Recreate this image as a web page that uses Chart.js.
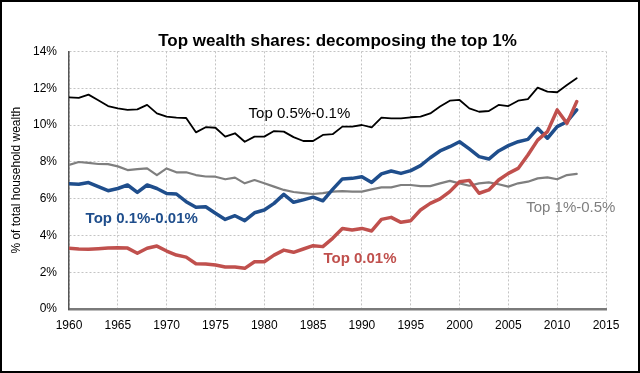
<!DOCTYPE html>
<html>
<head>
<meta charset="utf-8">
<script src="https://cdn.jsdelivr.net/npm/chart.js@4"></script>
<style>
  html, body { margin: 0; padding: 0; background: #fff; }
  #wrap { width: 640px; height: 373px; }
</style>
</head>
<body>
<div id="wrap"><canvas id="chart" width="640" height="373"></canvas></div>
<script>
// ================= DATA =================
const years = [
  1960, 1961, 1962, 1963, 1964, 1965, 1966, 1967, 1968, 1969,
  1970, 1971, 1972, 1973, 1974, 1975, 1976, 1977, 1978, 1979,
  1980, 1981, 1982, 1983, 1984, 1985, 1986, 1987, 1988, 1989,
  1990, 1991, 1992, 1993, 1994, 1995, 1996, 1997, 1998, 1999,
  2000, 2001, 2002, 2003, 2004, 2005, 2006, 2007, 2008, 2009,
  2010, 2011, 2012
];

// Top 0.5%-0.1%
const top05to01 = [
  11.5, 11.47, 11.65, 11.35, 11.03, 10.9, 10.82, 10.85, 11.09, 10.63,
  10.45, 10.4, 10.38, 9.6, 9.88, 9.85, 9.37, 9.55, 9.09, 9.37,
  9.37, 9.67, 9.64, 9.34, 9.13, 9.13, 9.46, 9.5, 9.91, 9.91,
  10.0, 9.87, 10.4, 10.36, 10.36, 10.42, 10.45, 10.63, 11.0, 11.32,
  11.36, 10.9, 10.72, 10.76, 11.09, 11.03, 11.32, 11.41, 12.03, 11.81,
  11.78, 12.17, 12.54
];

// Top 1%-0.5%
const top1to05 = [
  7.83, 7.99, 7.94, 7.88, 7.87, 7.75, 7.55, 7.6, 7.64, 7.28,
  7.64, 7.43, 7.43, 7.28, 7.2, 7.19, 7.05, 7.14, 6.83, 7.01,
  6.83, 6.65, 6.47, 6.36, 6.3, 6.25, 6.3, 6.38, 6.41, 6.38,
  6.38, 6.5, 6.61, 6.61, 6.74, 6.74, 6.68, 6.68, 6.83, 6.96,
  6.83, 6.7, 6.83, 6.88, 6.78, 6.65, 6.83, 6.92, 7.1, 7.15,
  7.05, 7.28, 7.34
];

// Top 0.1%-0.01%
const top01to001 = [
  6.81, 6.78, 6.87, 6.65, 6.43, 6.55, 6.74, 6.34, 6.74, 6.55,
  6.28, 6.25, 5.83, 5.53, 5.56, 5.2, 4.87, 5.07, 4.8, 5.23,
  5.38, 5.74, 6.23, 5.8, 5.93, 6.08, 5.88, 6.5, 7.07, 7.1,
  7.19, 6.88, 7.34, 7.5, 7.37, 7.52, 7.79, 8.22, 8.59, 8.82,
  9.09, 8.7, 8.28, 8.15, 8.59, 8.88, 9.09, 9.22, 9.82, 9.28,
  9.91, 10.18, 10.82
];

// Top 0.01%
const top001 = [
  3.3, 3.26, 3.25, 3.28, 3.31, 3.33, 3.31, 3.03, 3.3, 3.42,
  3.15, 2.93, 2.82, 2.46, 2.44, 2.39, 2.28, 2.28, 2.21, 2.57,
  2.57, 2.93, 3.2, 3.08, 3.26, 3.44, 3.39, 3.84, 4.38, 4.29,
  4.38, 4.24, 4.87, 4.98, 4.71, 4.8, 5.38, 5.74, 5.98, 6.38,
  6.92, 6.99, 6.29, 6.47, 7.01, 7.37, 7.64, 8.37, 9.18, 9.64,
  10.82, 10.09, 11.27
];

// line labels placed in the plot: text, year, value
const labelTexts = ["Top 0.5%-0.1%", "Top 0.1%-0.01%", "Top 0.01%", "Top 1%-0.5%"];
const labelYears = [1983.6, 1967.45, 1989.8, 2011.4];
const labelValues = [10.6, 4.89, 2.72, 5.52];

// ================= STYLE =================
const FONT = "'Liberation Sans', Arial, sans-serif";
const labelColors = ["#000000", "#1f4e8c", "#c0504d", "#7f7f7f"];
const labelBold = [false, true, true, false];

const toPoints = vals => years.map((y, i) => ({ x: y, y: vals[i] }));

// ================= PLUGINS =================
const frame = {
  id: "frame",
  beforeDraw(chart) {
    const c = chart.ctx;
    c.save();
    c.fillStyle = "#fff";
    c.fillRect(0, 0, chart.width, chart.height);
    c.restore();
  },
  afterDraw(chart) {
    const c = chart.ctx;
    c.save();
    c.strokeStyle = "#000";
    c.lineWidth = 2;
    c.strokeRect(1, 1, chart.width - 2, chart.height - 2);
    c.restore();
  }
};

const lineLabels = {
  id: "lineLabels",
  afterDatasetsDraw(chart) {
    const c = chart.ctx, xs = chart.scales.x, ys = chart.scales.y;
    c.save();
    c.textAlign = "center";
    c.textBaseline = "middle";
    labelTexts.forEach((t, i) => {
      c.font = (labelBold[i] ? "bold " : "") + "15px " + FONT;
      c.fillStyle = labelColors[i];
      c.fillText(t, xs.getPixelForValue(labelYears[i]), ys.getPixelForValue(labelValues[i]));
    });
    c.restore();
  }
};

// ================= CHART =================
new Chart(document.getElementById("chart"), {
  type: "line",
  data: {
    datasets: [
      { label: "Top 0.01%", data: toPoints(top001), borderColor: "#c0504d", borderWidth: 3.5 },
      { label: "Top 0.1%-0.01%", data: toPoints(top01to001), borderColor: "#1f4e8c", borderWidth: 3.5 },
      { label: "Top 1%-0.5%", data: toPoints(top1to05), borderColor: "#7f7f7f", borderWidth: 2.2 },
      { label: "Top 0.5%-0.1%", data: toPoints(top05to01), borderColor: "#000000", borderWidth: 1.8 }
    ]
  },
  options: {
    responsive: false,
    animation: false,
    layout: { padding: { left: 0, right: 34, top: 0, bottom: 0 } },
    elements: { point: { radius: 0 }, line: { tension: 0, borderCapStyle: "round", borderJoinStyle: "round" } },
    plugins: {
      legend: { display: false },
      tooltip: { enabled: false },
      title: {
        display: true,
        fullSize: false,
        text: "Top wealth shares: decomposing the top 1%",
        color: "#000",
        font: { family: FONT, size: 17, weight: "bold" },
        padding: { top: 31, bottom: 0 }
      }
    },
    scales: {
      x: {
        type: "linear",
        min: 1960,
        max: 2015,
        afterFit: s => { s.height = 64; },
        ticks: {
          stepSize: 5,
          color: "#000",
          font: { family: FONT, size: 12 },
          padding: 9,
          maxRotation: 0,
          callback: v => String(v)
        },
        grid: { color: "#c4c4c4", lineWidth: 1, drawTicks: false },
        border: { color: "#7a7a7a", width: 2.5, dash: [2, 2] }
      },
      y: {
        min: 0,
        max: 14,
        afterFit: s => { s.width = 69; },
        ticks: {
          stepSize: 2,
          color: "#000",
          font: { family: FONT, size: 12 },
          padding: 12,
          callback: v => v + "%"
        },
        grid: { color: "#c4c4c4", lineWidth: 1, drawTicks: false },
        border: { color: "#555", width: 1.5, dash: [2, 2] },
        title: {
          display: true,
          text: "% of total household wealth",
          color: "#000",
          font: { family: FONT, size: 12 },
          padding: { top: 9, bottom: 0 }
        }
      }
    }
  },
  plugins: [frame, lineLabels]
});
</script>
</body>
</html>
